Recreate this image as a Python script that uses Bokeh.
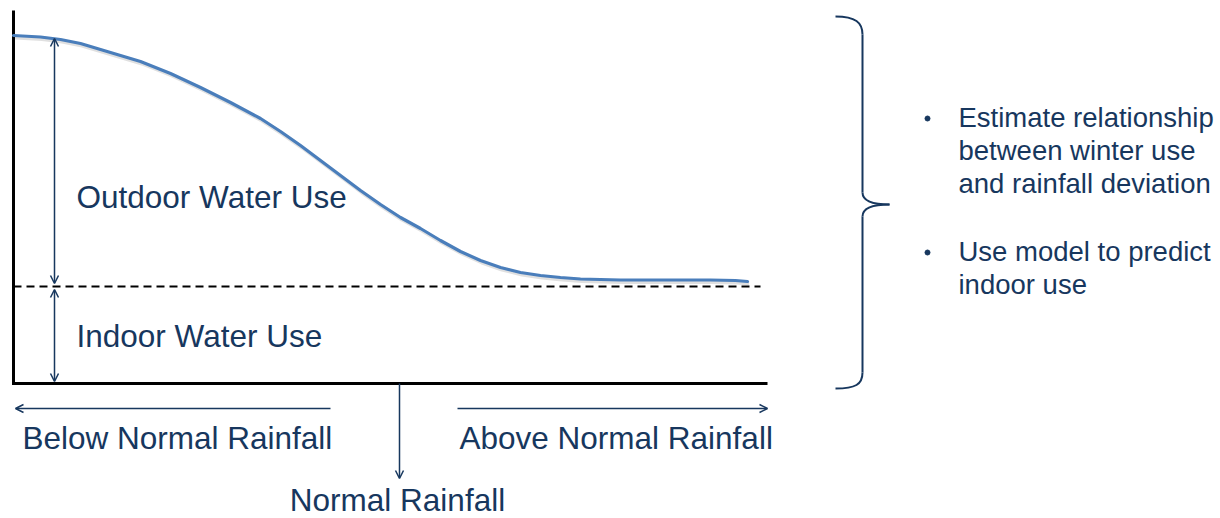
from bokeh.plotting import figure
from bokeh.models import Range1d, Arrow, OpenHead
from bokeh.core.properties import value
from bokeh.embed import file_html
from bokeh.resources import INLINE

# ---- data (x: rainfall deviation units, y: water use units) ----
rain_x = [0, 27, 47, 67, 97, 127, 157, 187, 217, 247, 267, 287, 307, 327, 347,
          367, 387, 407, 427, 447, 467, 487, 507, 527, 547, 567, 607, 654, 697,
          722, 734]
water_use = [348, 346.5, 344, 340, 331, 322, 310, 296, 281, 265, 252, 238, 223,
             208, 193, 179, 166, 155, 143, 132, 123, 116, 111, 108, 106, 104.5,
             103.5, 103.5, 103.5, 103, 102]
indoor_level = 97
normal_rain = 386
axis_end = 754
axis_top = 373

outdoor_label = "Outdoor Water Use"
indoor_label = "Indoor Water Use"
below_label = "Below Normal Rainfall"
above_label = "Above Normal Rainfall"
normal_label = "Normal Rainfall"
bullet1 = ["Estimate relationship", "between winter use", "and rainfall deviation"]
bullet2 = ["Use model to predict", "indoor use"]

NAVY = "#17375E"
CURVE = "#4A7EBB"
FONT = value("Liberation Sans")
TXT_SHIFT = 11  # compensation for alphabetic baseline placement

p = figure(width=1220, height=518, x_range=Range1d(-13, 1207), y_range=Range1d(-135, 383),
           output_backend="svg", toolbar_location=None, min_border=0,
           x_axis_location=None, y_axis_location=None)
p.grid.visible = False
p.outline_line_color = None
p.background_fill_color = "white"

# axes of the diagram
p.line([0, 0], [0, axis_top], line_color="black", line_width=3)
p.line([-1.5, axis_end], [0, 0], line_color="black", line_width=3)

# indoor baseline (dashed)
p.line([0, axis_end - 7], [indoor_level, indoor_level], line_color="black",
       line_width=1.8, line_dash="8 5")

# curve with soft shadow
p.line([x + 1.5 for x in rain_x], [y - 2 for y in water_use], line_color="black",
       line_alpha=0.12, line_width=4, line_join="round")
p.line(rain_x, water_use, line_color=CURVE, line_width=3.2, line_join="round",
       line_cap="round")

# vertical double arrows
ax = 41
def head():
    return OpenHead(size=8, line_color=NAVY, line_width=1.5)
p.add_layout(Arrow(start=head(), end=head(), x_start=ax, y_start=indoor_level + 3,
                   x_end=ax, y_end=water_use[0] - 3, line_color=NAVY, line_width=1.5))
p.add_layout(Arrow(start=head(), end=head(), x_start=ax, y_start=2,
                   x_end=ax, y_end=indoor_level - 3, line_color=NAVY, line_width=1.5))

# horizontal rainfall arrows
ay = -25
p.add_layout(Arrow(end=head(), x_start=317, y_start=ay, x_end=2, y_end=ay,
                   line_color=NAVY, line_width=1.5))
p.add_layout(Arrow(end=head(), x_start=444, y_start=ay, x_end=axis_end, y_end=ay,
                   line_color=NAVY, line_width=1.5))
p.add_layout(Arrow(end=head(), x_start=normal_rain, y_start=0, x_end=normal_rain, y_end=-95,
                   line_color=NAVY, line_width=1.5))

# labels
p.text(x=[63, 63], y=[176 + TXT_SHIFT, 37 + TXT_SHIFT], text=[outdoor_label, indoor_label],
       text_font=FONT, text_font_size="31.5px", text_color=NAVY, text_baseline="alphabetic",
       text_align="left")
p.text(x=[9, 446], y=[-65 + TXT_SHIFT, -65 + TXT_SHIFT], text=[below_label, above_label],
       text_font=FONT, text_font_size="31.5px", text_color=NAVY, text_baseline="alphabetic",
       text_align="left")
p.text(x=[384], y=[-127 + TXT_SHIFT], text=[normal_label],
       text_font=FONT, text_font_size="31.5px", text_color=NAVY, text_baseline="alphabetic",
       text_align="center")

# brace
bx0, bx1, bxt = 822, 849, 876
by_top, by_mid, by_bot = 367, 179, -5
p.bezier(x0=[bx0], y0=[by_top], x1=[bx1], y1=[by_top - 18], cx0=[bx1 - 7], cy0=[by_top],
         cx1=[bx1], cy1=[by_top - 6], line_color=NAVY, line_width=2)
p.line([bx1, bx1], [by_top - 18, by_mid + 12], line_color=NAVY, line_width=2)
p.bezier(x0=[bx1], y0=[by_mid + 12], x1=[bxt], y1=[by_mid], cx0=[bx1], cy0=[by_mid + 4],
         cx1=[bx1 + 8], cy1=[by_mid], line_color=NAVY, line_width=2)
p.bezier(x0=[bxt], y0=[by_mid], x1=[bx1], y1=[by_mid - 12], cx0=[bx1 + 8], cy0=[by_mid],
         cx1=[bx1], cy1=[by_mid - 4], line_color=NAVY, line_width=2)
p.line([bx1, bx1], [by_mid - 12, by_bot + 16], line_color=NAVY, line_width=2)
p.bezier(x0=[bx1], y0=[by_bot + 16], x1=[bx0], y1=[by_bot], cx0=[bx1], cy0=[by_bot + 4],
         cx1=[bx1 - 7], cy1=[by_bot], line_color=NAVY, line_width=2)

# bullet text
tx = 945
b1_y = [255, 222, 189]
b2_y = [121, 88]
p.text(x=[tx] * 5, y=[v + TXT_SHIFT for v in b1_y + b2_y], text=bullet1 + bullet2,
       text_font=FONT, text_font_size="27.5px", text_color=NAVY, text_baseline="alphabetic",
       text_align="left")
p.scatter(x=[914, 914], y=[b1_y[0] + 10, b2_y[0] + 10], size=5, marker="circle",
          fill_color=NAVY, line_color=NAVY)

open("out.html", "w").write(file_html(p, INLINE))
